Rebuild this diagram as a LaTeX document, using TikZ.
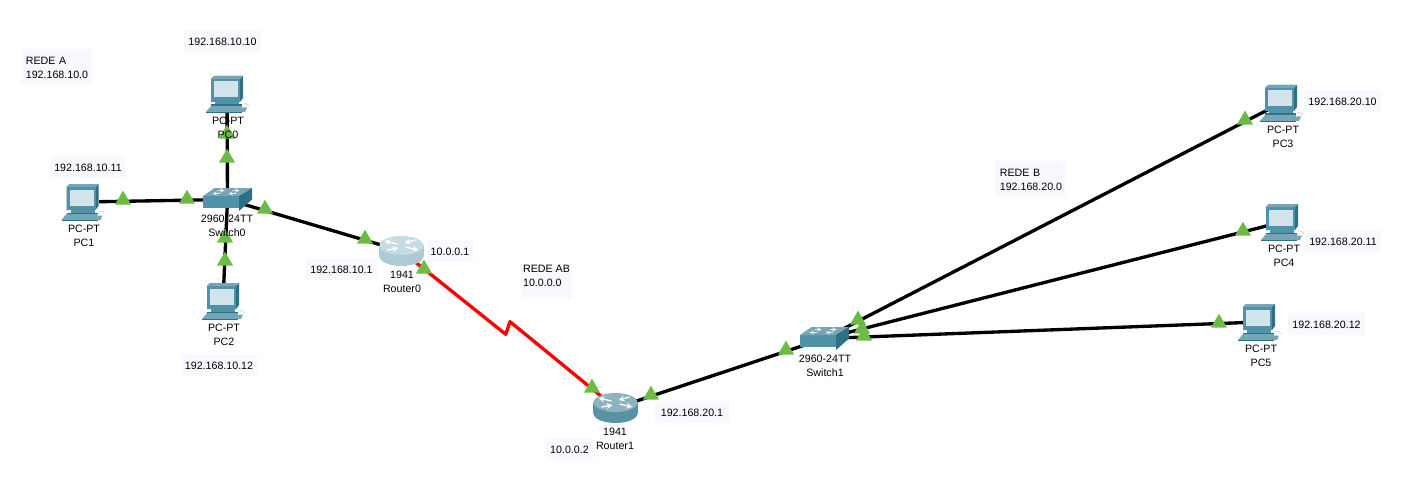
\documentclass[tikz,border=0pt]{standalone}
\usepackage{fontspec}
\setmainfont{Liberation Sans}
\definecolor{linkred}{RGB}{255,0,0}
\definecolor{portgreen}{RGB}{108,187,69}
\definecolor{notebg}{RGB}{248,248,255}
\definecolor{devtop}{RGB}{118,166,182}
\definecolor{devfront}{RGB}{80,146,170}
\definecolor{devside}{RGB}{44,112,134}
\definecolor{pcscreen}{RGB}{211,227,234}
\definecolor{routerlight}{RGB}{172,203,213}
\definecolor{routerdark}{RGB}{90,146,165}
\usetikzlibrary{shapes,arrows,positioning,calc}
\tikzset{
    devspot/.style={inner sep=0pt, minimum size=1pt},
    devtext/.style={align=center, inner sep=0pt, yshift=-0.75pt, font=\fontsize{8}{10.5}\selectfont},
    note/.style={fill=notebg, align=left, inner sep=0pt, text height=7pt, minimum height=16.5pt, font=\fontsize{8}{10.5}\selectfont},
    wire/.style={line width=2.5pt, black},
    serialwire/.style={line width=2.5pt, linkred, line join=round},
    port/.style={isosceles triangle, isosceles triangle apex angle=60, shape border rotate=90, fill=portgreen, inner sep=0pt, minimum height=10.5pt, minimum width=10.5pt},
    routerarrow/.style={white, line width=1pt, -stealth},
    pcicon/.pic={
        \fill[white] (-16,-15) rectangle (16,8);
        \fill[devside] (-16,-15) -- (-13,-18) -- (16,-18) -- (16,4) -- (13,8) -- (-16,8) -- cycle;
        \fill[devfront] (-16,-15) rectangle (13,8);
        \fill[devtop] (-16,-15) -- (-13,-18) -- (16,-18) -- (13,-15) -- cycle;
        \fill[pcscreen] (-13,-12.5) rectangle (11,3.5);
        \fill[devfront] (-12,8) rectangle (12,10.5);
        \fill[devside] (-16,10.5) rectangle (15,12);
        \fill[devtop] (-16,12) -- (15,12) -- (15,18) -- (-21,18) -- cycle;
        \fill[devside] (-21,18) rectangle (15,18.6);
        \fill[devtop] (15.5,13.5) -- (20,13.5) -- (18,18) -- (14,18) -- cycle;
        \draw[devtop!60, line width=0.4pt] (16,10) .. controls (19,9) and (22,10) .. (22,12);
    },
    switchicon/.pic={
        \fill[devfront] (-24.5,-3.5) rectangle (11.5,8.5);
        \fill[devtop] (-24.5,-3.5) -- (-13,-11.5) -- (24.5,-11.5) -- (11.5,-3.5) -- cycle;
        \fill[devside] (11.5,-3.5) -- (24.5,-11.5) -- (24.5,0) -- (11.5,11.5) -- (11.5,8.5) -- cycle;
        \draw[white!80!devtop, line width=0.5pt, -stealth] (-8,-6) -- (-15,-6);
        \draw[white!80!devtop, line width=0.5pt, -stealth] (-10,-9) -- (-3,-9);
        \draw[white!80!devtop, line width=0.5pt, -stealth] (8,-6) -- (1,-6);
        \draw[white!80!devtop, line width=0.5pt, -stealth] (5,-9) -- (12,-9);
    },
    routericon/.pic={
        \shade[left color=#1, middle color=white, right color=#1] (0,5.5) ellipse [x radius=22, y radius=9.5];
        \shade[left color=#1, middle color=white, right color=#1] (-22,-5.5) rectangle (22,5.5);
        \fill[#1!70!white] (0,-5.5) ellipse [x radius=22, y radius=9.5];
        \draw[routerarrow] (-4,-7) -- (-17,-10);
        \draw[routerarrow] (14,-11) -- (3,-8);
        \draw[routerarrow] (4,-4) -- (17,-1);
        \draw[routerarrow] (-14,-1) -- (-3,-3);
    },
}

\begin{document}
\begin{tikzpicture}[x=0.75pt, y=-0.75pt]
    \useasboundingbox (0,0) rectangle (1416,481);

    % devices
    \node[devspot] (pc0) at (227,94) {};
    \node[devspot] (pc1) at (82.5,202) {};
    \node[devspot] (pc2) at (223,301) {};
    \node[devspot] (pc3) at (1281,103) {};
    \node[devspot] (pc4) at (1282,222) {};
    \node[devspot] (pc5) at (1259,322) {};
    \node[devspot] (switch0) at (227.5,199.5) {};
    \node[devspot] (switch1) at (824.5,338.5) {};
    \node[devspot] (router0) at (401.5,251) {};
    \node[devspot] (router1) at (615.5,408) {};
    \coordinate (bendA) at (505.7,334.3);
    \coordinate (bendB) at (510,321.7);

    % links
    \draw[wire] (pc0) -- (switch0);
    \draw[wire] (pc1) -- (switch0);
    \draw[wire] (pc2) -- (switch0);
    \draw[wire] (switch0) -- (router0);
    \draw[wire] (router1) -- (switch1);
    \draw[wire] (switch1) -- (pc3);
    \draw[wire] (switch1) -- (pc4);
    \draw[wire] (switch1) -- (pc5);
    \draw[serialwire] (router0) -- (bendA) -- (bendB) -- (router1);

    % icons
    \foreach \n in {pc0,pc1,pc2,pc3,pc4,pc5}
        \pic at (\n) {pcicon};
    \pic at (switch0) {switchicon};
    \pic at (switch1) {switchicon};
    \pic at (router0) {routericon=routerlight};
    \pic at (router1) {routericon=routerdark};

    % link lights
    \foreach \n/\x/\y in {a/227/134, b/227/158, c/123/200, d/187/199, e/225/238, f/225/261,
                          g/265/209, h/365/239, i/424/269, j/592/388, k/651/395, l/786/350,
                          m/858/320, n/862/329, o/864/336, p/1245/120, q/1243/231, r/1219/323}
        \node[port] (port\n) at (\x,\y) {};

    % device names
    \node[devtext] (pc0text) at (228,127) {PC-PT\\PC0};
    \node[devtext] (pc1text) at (84,235) {PC-PT\\PC1};
    \node[devtext] (pc2text) at (224,334) {PC-PT\\PC2};
    \node[devtext] (pc3text) at (1283,136) {PC-PT\\PC3};
    \node[devtext] (pc4text) at (1284,255) {PC-PT\\PC4};
    \node[devtext] (pc5text) at (1261,355) {PC-PT\\PC5};
    \node[devtext] (switch0text) at (227,225) {2960-24TT\\Switch0};
    \node[devtext] (switch1text) at (825,365) {2960-24TT\\Switch1};
    \node[devtext] (router0text) at (402,281) {1941\\Router0};
    \node[devtext] (router1text) at (615,438) {1941\\Router1};

    % notes
    \node[note, minimum width=57.75pt] (ip0) at (222.5,41) {192.168.10.10};
    \node[note, minimum width=57pt] (ip1) at (88,167) {192.168.10.11};
    \node[note, minimum width=57pt] (ip2) at (219,365) {192.168.10.12};
    \node[note, minimum width=53.25pt] (gwA) at (341.5,269) {192.168.10.1};
    \node[note, minimum width=34.5pt] (serialA) at (450,251) {10.0.0.1};
    \node[note, minimum width=35.25pt] (serialB) at (569.5,449) {10.0.0.2};
    \node[note, minimum width=56.25pt] (gwB) at (692,412) {192.168.20.1};
    \node[note, minimum width=57.75pt] (ip3) at (1342.5,101) {192.168.20.10};
    \node[note, minimum width=57pt] (ip4) at (1343,241) {192.168.20.11};
    \node[note, minimum width=57.75pt] (ip5) at (1326.5,324) {192.168.20.12};
    \node[note, text width=46pt, inner xsep=3.5pt, minimum height=26pt] (redeA) at (56.5,66.5) {REDE A\\192.168.10.0};
    \node[note, text width=46pt, inner xsep=3.5pt, minimum height=26pt] (redeB) at (1030.5,178.5) {REDE B\\192.168.20.0};
    \node[note, minimum width=38.25pt, minimum height=26pt] (redeAB) at (546.5,281.5) {REDE AB\\10.0.0.0};
\end{tikzpicture}
\end{document}
